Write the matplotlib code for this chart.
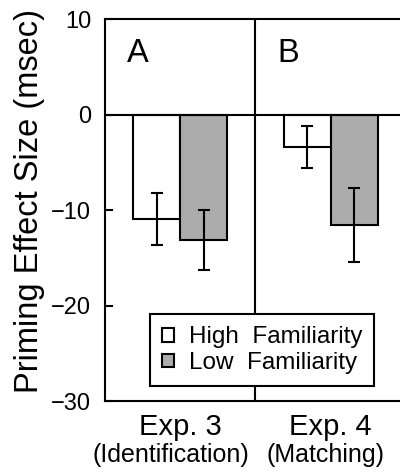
#-----------------------------------------------------------------------------------------------------------------------
# Priming effect size by familiarity - bar chart with error bars
#-----------------------------------------------------------------------------------------------------------------------

import numpy as np
import matplotlib
matplotlib.use("Agg")
import matplotlib.pyplot as plt
from matplotlib.transforms import blended_transform_factory

plt.rcParams['font.family'] = ['Liberation Sans', 'DejaVu Sans']

#-----------------------------------------------------------------------------------------------------------------------
experiments = ["Exp. 3", "Exp. 4"]
tasks       = ["(Identification)", "(Matching)"]
panels      = ["A", "B"]
series      = ["High  Familiarity", "Low  Familiarity"]

high_fam     = [-10.9, -3.4]
high_fam_err = [2.7, 2.2]
low_fam      = [-13.1, -11.5]
low_fam_err  = [3.1, 3.85]

yticks = [10, 0, -10, -20, -30]

#-----------------------------------------------------------------------------------------------------------------------
fig = plt.figure(figsize=(4.0, 4.74), dpi=100)
ax = fig.add_axes([0.2625, 0.153, 0.74, 0.806])

x = np.arange(len(experiments))
w = 0.313
LW = 1.5

ax.bar(x - w/2, high_fam, w, color="white", edgecolor="black", linewidth=LW, label=series[0], zorder=2)
ax.bar(x + w/2, low_fam, w, color="#acacac", edgecolor="black", linewidth=LW, label=series[1], zorder=2)
ax.errorbar(x - w/2, high_fam, yerr=high_fam_err, fmt="none", ecolor="black", elinewidth=LW, capsize=4.3, capthick=LW, zorder=3)
ax.errorbar(x + w/2, low_fam, yerr=low_fam_err, fmt="none", ecolor="black", elinewidth=LW, capsize=4.3, capthick=LW, zorder=3)

ax.axhline(0, color="black", linewidth=LW, zorder=4)
ax.axvline(0.5, color="black", linewidth=LW, zorder=4)

ax.set_xlim(-0.5, 1.467)
ax.set_ylim(-30, 10)
ax.set_yticks(yticks)
ax.set_xticks([])
ax.tick_params(axis="y", direction="in", length=6, width=LW, pad=10, labelsize=17)
for s in ["left", "top", "bottom"]:
    ax.spines[s].set_linewidth(LW)
ax.spines["right"].set_visible(False)

# panel letters
for i, p in enumerate(panels):
    ax.text(i - 0.355, 5.53, p, fontsize=23.5, ha="left", va="baseline")

# x labels below the axis
tr = blended_transform_factory(ax.transData, fig.transFigure)
ax.text(0.0, 0.0823, experiments[0], transform=tr, fontsize=21, ha="center", va="baseline")
ax.text(1.0, 0.0823, experiments[1], transform=tr, fontsize=21, ha="center", va="baseline")
ax.text(-0.061, 0.026, tasks[0], transform=tr, fontsize=18, ha="center", va="baseline")
ax.text(0.967, 0.026, tasks[1], transform=tr, fontsize=18, ha="center", va="baseline")

fig.text(30/400, 1 - 201/474, "Priming Effect Size (msec)", rotation=90, fontsize=23.5, ha="center", va="center")

leg = ax.legend(loc="center", bbox_to_anchor=(0.531, 0.134), fontsize=17.5, frameon=True, fancybox=False,
                edgecolor="black", framealpha=1, handlelength=0.5, handleheight=0.5, handletextpad=0.6,
                borderpad=0.5, labelspacing=0.15)
leg.get_frame().set_linewidth(LW)
leg.set_zorder(5)

fig.savefig("out.png", dpi=100)

#-----------------------------------------------------------------------------------------------------------------------
